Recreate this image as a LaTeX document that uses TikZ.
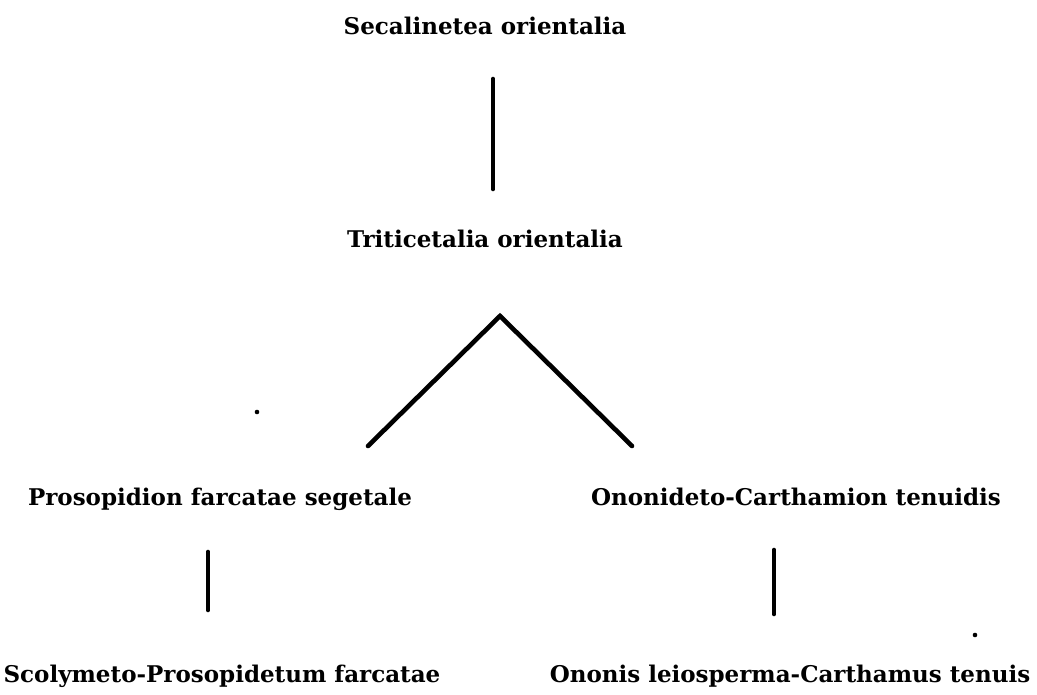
\documentclass[tikz,border=0pt]{standalone}
\usepackage{fontspec}
\setmainfont{DejaVu Serif}
\begin{document}
\begin{tikzpicture}[x=1pt,y=-1pt,
  lbl/.style={font=\bfseries\fontsize{23}{26}\selectfont, inner sep=0pt, anchor=base},
  link/.style={line width=4.6pt, line cap=round},
  speck/.style={fill=black}]
\useasboundingbox (0,0) rectangle (1037,695);
\node[lbl] (sec) at (485,35) {Secalinetea orientalia};
\node[lbl] (tri) at (485,248) {Triticetalia orientalia};
\node[lbl] (pro) at (220,505) {Prosopidion farcatae segetale};
\node[lbl] (ono) at (796,505) {Ononideto-Carthamion tenuidis};
\node[lbl] (sco) at (222,682) {Scolymeto-Prosopidetum farcatae};
\node[lbl] (oca) at (790,682) {Ononis leiosperma-Carthamus tenuis};
\coordinate (a1) at (493,79);
\coordinate (a2) at (493,189);
\coordinate (apex) at (500,316);
\coordinate (vl) at (368,446);
\coordinate (vr) at (632,446);
\coordinate (b1) at (208,552);
\coordinate (b2) at (208,610);
\coordinate (c1) at (774,550);
\coordinate (c2) at (774,614);
\draw[link] (a1) -- (a2);
\draw[link] (vl) -- (apex) -- (vr);
\draw[link] (b1) -- (b2);
\draw[link] (c1) -- (c2);
\fill[speck] (257,412) circle (2.3);
\fill[speck] (975,635) circle (2.3);
\end{tikzpicture}
\end{document}
